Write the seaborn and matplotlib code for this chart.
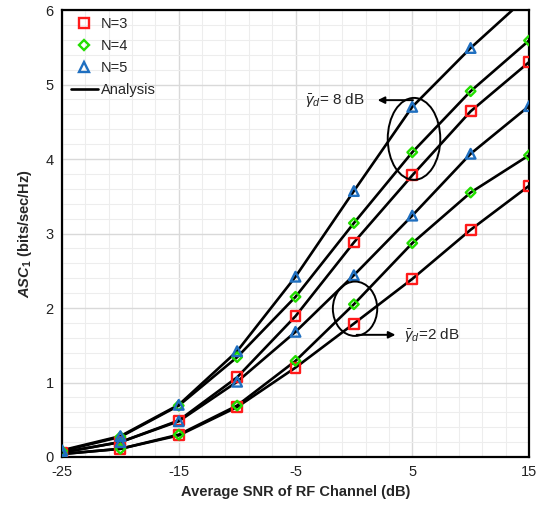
import numpy as np
import pandas as pd
import matplotlib
matplotlib.use("Agg")
import matplotlib.pyplot as plt
from matplotlib.lines import Line2D
from matplotlib.patches import Ellipse
import seaborn as sns

# ---- data ----
snr_db = [-25, -20, -15, -10, -5, 0, 5, 10, 15]
# gamma_d = 8 dB
asc_n3_8db = [0.06, 0.20, 0.49, 1.07, 1.89, 2.88, 3.78, 4.64, 5.30]
asc_n4_8db = [0.08, 0.27, 0.69, 1.34, 2.15, 3.14, 4.09, 4.91, 5.59]
asc_n5_8db = [0.09, 0.28, 0.70, 1.42, 2.42, 3.57, 4.70, 5.49, 6.20]
# gamma_d = 2 dB
asc_n3_2db = [0.04, 0.11, 0.29, 0.67, 1.20, 1.79, 2.39, 3.05, 3.64]
asc_n4_2db = [0.04, 0.11, 0.30, 0.69, 1.29, 2.05, 2.87, 3.55, 4.05]
asc_n5_2db = [0.06, 0.20, 0.48, 1.01, 1.68, 2.44, 3.24, 4.07, 4.71]

legend_labels = ["N=3", "N=4", "N=5", "Analysis"]
x_ticks = [-25, -15, -5, 5, 15]
y_ticks = [0, 1, 2, 3, 4, 5, 6]

series = {
    ("N=3", "8 dB"): asc_n3_8db,
    ("N=4", "8 dB"): asc_n4_8db,
    ("N=5", "8 dB"): asc_n5_8db,
    ("N=3", "2 dB"): asc_n3_2db,
    ("N=4", "2 dB"): asc_n4_2db,
    ("N=5", "2 dB"): asc_n5_2db,
}
rows = []
for (n, g), vals in series.items():
    for x, y in zip(snr_db, vals):
        rows.append({"snr": x, "asc": y, "N": n, "gamma": g, "curve": f"{n} {g}"})
df = pd.DataFrame(rows)

sns.set_theme(style="white")
plt.rcParams["font.family"] = ["Liberation Sans", "DejaVu Sans"]
plt.rcParams["axes.unicode_minus"] = False
plt.rcParams["mathtext.fontset"] = "custom"
plt.rcParams["mathtext.rm"] = "Liberation Sans"
plt.rcParams["mathtext.it"] = "Liberation Sans:italic"
plt.rcParams["mathtext.bf"] = "Liberation Sans:bold"
plt.rcParams["mathtext.bfit"] = "Liberation Sans:bold:italic"

fig = plt.figure(figsize=(5.46, 5.07), dpi=100)
ax = fig.add_axes([62 / 546, 50 / 507, (529 - 62) / 546, (457 - 10) / 507])

# grid
ax.set_xlim(-25, 15)
ax.set_ylim(0, 6)
ax.set_xticks(x_ticks)
ax.set_yticks(y_ticks)
ax.set_xticklabels([str(t) for t in x_ticks])
ax.set_yticklabels([str(t) for t in y_ticks])
ax.set_xticks(np.arange(-25, 15.01, 2), minor=True)
ax.set_yticks(np.arange(0, 6.01, 0.2), minor=True)
ax.grid(which="minor", color="#EDEDED", linewidth=0.8)
ax.grid(which="major", axis="y", color="#D9D9D9", linewidth=1.0)
ax.grid(which="major", axis="x", color="#D9D9D9", linewidth=1.0)
ax.set_axisbelow(True)
ax.tick_params(which="both", length=0, labelsize=10.5, colors="#222222", pad=6)

# analysis curves
sns.lineplot(data=df, x="snr", y="asc", units="curve", estimator=None,
             color="black", linewidth=1.9, ax=ax, zorder=2, legend=False)

styles = {"N=3": ("s", "#FF1A1A", 50), "N=4": ("D", "#22DD00", 24), "N=5": ("^", "#1F6FC0", 48)}
for n, (m, c, s) in styles.items():
    sub = df[df["N"] == n]
    sns.scatterplot(data=sub, x="snr", y="asc", marker=m, s=s, color=c,
                    facecolor="none", edgecolor=c, linewidth=1.7, ax=ax,
                    zorder=3, legend=False, clip_on=True)

# ellipses and annotations
ax.add_patch(Ellipse((5.15, 4.27), 4.5, 1.10, fill=False, edgecolor="black", linewidth=1.4, zorder=4))
ax.annotate("", xy=(1.8, 4.79), xytext=(5.3, 4.79),
            arrowprops=dict(arrowstyle="-|>", color="black", lw=1.4, mutation_scale=10))
ax.text(-4.2, 4.79, r"$\bar{\gamma}_d$= 8 dB", fontsize=11, va="center", ha="left")

ax.add_patch(Ellipse((0.1, 1.99), 3.8, 0.73, fill=False, edgecolor="black", linewidth=1.4, zorder=4))
ax.annotate("", xy=(3.8, 1.64), xytext=(0.0, 1.64),
            arrowprops=dict(arrowstyle="-|>", color="black", lw=1.4, mutation_scale=10))
ax.text(4.3, 1.64, r"$\bar{\gamma}_d$=2 dB", fontsize=11, va="center", ha="left")

# axes labels
ax.set_xlabel("Average SNR of RF Channel (dB)", fontsize=10.5, fontweight="bold", labelpad=4)
ax.set_ylabel(r"$\mathbfit{ASC}_\mathbf{1}$ (bits/sec/Hz)", fontsize=10.5, fontweight="bold", labelpad=8)

for sp in ax.spines.values():
    sp.set_color("black")
    sp.set_linewidth(1.6)

handles = [
    Line2D([], [], marker="s", linestyle="none", markersize=7, markerfacecolor="none",
           markeredgecolor=styles["N=3"][1], markeredgewidth=1.7),
    Line2D([], [], marker="D", linestyle="none", markersize=5, markerfacecolor="none",
           markeredgecolor=styles["N=4"][1], markeredgewidth=1.7),
    Line2D([], [], marker="^", linestyle="none", markersize=7, markerfacecolor="none",
           markeredgecolor=styles["N=5"][1], markeredgewidth=1.7),
    Line2D([], [], color="black", linewidth=1.9),
]
leg = ax.legend(handles, legend_labels, loc="upper left", bbox_to_anchor=(-0.005, 1.01),
                frameon=False, fontsize=10.5, handlelength=1.8, handletextpad=0.25,
                labelspacing=0.55, borderpad=0.3)

fig.savefig("out.png", dpi=100)
